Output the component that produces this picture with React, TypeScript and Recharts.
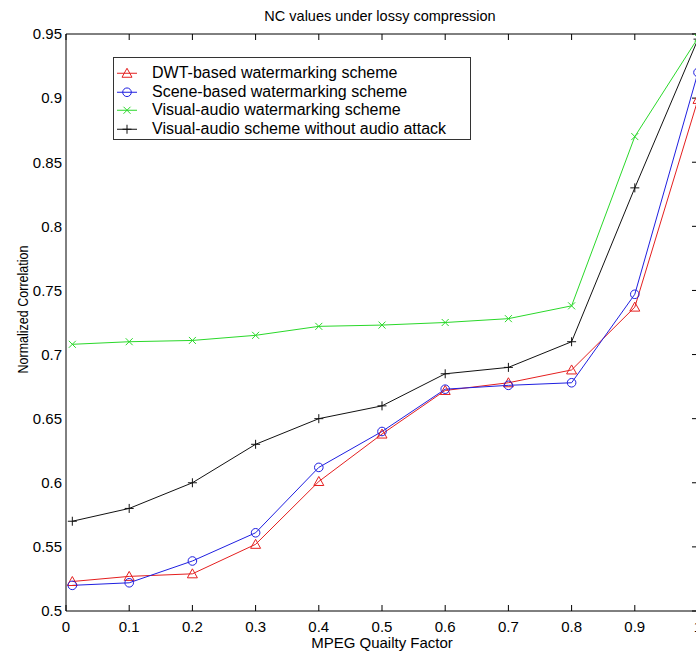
import React from "react";
import { LineChart, Line, XAxis, YAxis } from "recharts";

// MPEG quality factor (first sample sits just right of 0)
const qualityFactors = [0.01, 0.1, 0.2, 0.3, 0.4, 0.5, 0.6, 0.7, 0.8, 0.9, 1.0];
const dwtScheme = [0.523, 0.527, 0.529, 0.552, 0.601, 0.638, 0.672, 0.678, 0.688, 0.737, 0.899];
const sceneScheme = [0.52, 0.522, 0.539, 0.561, 0.612, 0.64, 0.673, 0.676, 0.678, 0.747, 0.92];
const visualAudioScheme = [0.708, 0.71, 0.711, 0.715, 0.722, 0.723, 0.725, 0.728, 0.738, 0.87, 0.947];
const noAudioAttack = [0.57, 0.58, 0.6, 0.63, 0.65, 0.66, 0.685, 0.69, 0.71, 0.83, 0.946];

const xTicks = [0, 0.1, 0.2, 0.3, 0.4, 0.5, 0.6, 0.7, 0.8, 0.9, 1];
const xTickLabels = ["0", "0.1", "0.2", "0.3", "0.4", "0.5", "0.6", "0.7", "0.8", "0.9", "1"];
const yTicks = [0.5, 0.55, 0.6, 0.65, 0.7, 0.75, 0.8, 0.85, 0.9, 0.95];
const yTickLabels = ["0.5", "0.55", "0.6", "0.65", "0.7", "0.75", "0.8", "0.85", "0.9", "0.95"];

const seriesNames = [
  "DWT-based watermarking scheme",
  "Scene-based watermarking scheme",
  "Visual-audio watermarking scheme",
  "Visual-audio scheme without audio attack",
];

const RED = "#e41f1f";
const BLUE = "#1f1fe0";
const GREEN = "#2ad82a";
const BLACK = "#111";

const data = qualityFactors.map((q, i) => ({
  q,
  dwt: dwtScheme[i],
  scene: sceneScheme[i],
  visual: visualAudioScheme[i],
  noAttack: noAudioAttack[i],
}));

type Marker = "triangle" | "circle" | "cross" | "plus";

function markerShape(kind: Marker, color: string, cx: number, cy: number, key?: any) {
  if (kind === "triangle") {
    return (
      <polygon key={key} points={`${cx},${cy - 5} ${cx - 5},${cy + 4} ${cx + 5},${cy + 4}`}
        fill="none" stroke={color} strokeWidth={1} />
    );
  }
  if (kind === "circle") {
    return <circle key={key} cx={cx} cy={cy} r={4.3} fill="none" stroke={color} strokeWidth={1} />;
  }
  if (kind === "cross") {
    return (
      <g key={key} stroke={color} strokeWidth={1}>
        <line x1={cx - 3.5} y1={cy - 3.5} x2={cx + 3.5} y2={cy + 3.5} />
        <line x1={cx - 3.5} y1={cy + 3.5} x2={cx + 3.5} y2={cy - 3.5} />
      </g>
    );
  }
  return (
    <g key={key} stroke={color} strokeWidth={1}>
      <line x1={cx - 4.5} y1={cy} x2={cx + 4.5} y2={cy} />
      <line x1={cx} y1={cy - 4.5} x2={cx} y2={cy + 4.5} />
    </g>
  );
}

const dotFor = (kind: Marker, color: string) => (props: any) =>
  markerShape(kind, color, props.cx, props.cy, props.key ?? `${kind}-${props.index}`);

const series: { key: string; color: string; marker: Marker }[] = [
  { key: "dwt", color: RED, marker: "triangle" },
  { key: "scene", color: BLUE, marker: "circle" },
  { key: "visual", color: GREEN, marker: "cross" },
  { key: "noAttack", color: BLACK, marker: "plus" },
];

const tickStyle = { fill: "#000", fontSize: 15 };

export default function App() {
  return (
    <div
      style={{
        position: "absolute",
        left: 0,
        top: 0,
        width: 696,
        height: 655,
        overflow: "hidden",
        background: "#fff",
        fontFamily: "Arial, 'Liberation Sans', sans-serif",
      }}
    >
      <div
        style={{
          position: "absolute",
          left: 0,
          top: 8,
          width: 760,
          textAlign: "center",
          fontSize: 14.5,
          lineHeight: "17px",
          color: "#000",
        }}
      >
        NC values under lossy compression
      </div>

      <LineChart width={728} height={655} data={data} margin={{ top: 33, right: 0, bottom: 0, left: 0 }}>
        <XAxis
          dataKey="q"
          type="number"
          domain={[0, 1]}
          allowDataOverflow
          ticks={xTicks}
          tickFormatter={(v: number) => xTickLabels[xTicks.indexOf(v)] ?? String(v)}
          tickSize={-6}
          tickMargin={16}
          height={44}
          stroke="#000"
          tick={tickStyle}
          label={{
            content: (p: any) => {
              const vb = p.viewBox;
              return (
                <text x={vb.x + vb.width / 2} y={642} textAnchor="middle" dominantBaseline="central"
                  fontSize={15} fill="#000">
                  MPEG Quailty Factor
                </text>
              );
            },
          }}
        />
        <XAxis
          xAxisId="top"
          dataKey="q"
          orientation="top"
          type="number"
          domain={[0, 1]}
          allowDataOverflow
          ticks={xTicks}
          tickFormatter={() => ""}
          tickSize={-6}
          height={1}
          stroke="#000"
        />
        <YAxis
          type="number"
          domain={[0.5, 0.95]}
          allowDataOverflow
          ticks={yTicks}
          tickFormatter={(v: number) => yTickLabels[yTicks.indexOf(v)] ?? String(v)}
          tickLine={false}
          tickSize={0}
          tickMargin={4}
          width={66}
          stroke="#000"
          tick={tickStyle}
          label={{
            content: (p: any) => {
              const vb = p.viewBox;
              const cy = vb.y + vb.height / 2 - 13;
              return (
                <text x={22} y={cy} transform={`rotate(-90 22 ${cy})`} textAnchor="middle"
                  dominantBaseline="central" fontSize={15} textLength={128}
                  lengthAdjust="spacingAndGlyphs" fill="#000">
                  Normalized Correlation
                </text>
              );
            },
          }}
        />
        <YAxis
          yAxisId="right"
          dataKey="dwt"
          orientation="right"
          type="number"
          domain={[0.5, 0.95]}
          allowDataOverflow
          ticks={yTicks}
          tickFormatter={() => ""}
          tickSize={-6}
          width={30}
          stroke="#000"
        />
        {series.map((s) => (
          <Line
            key={s.key}
            dataKey={s.key}
            type="linear"
            stroke={s.color}
            strokeWidth={1}
            dot={dotFor(s.marker, s.color)}
            activeDot={false}
            isAnimationActive={false}
          />
        ))}
      </LineChart>

      <div
        style={{
          position: "absolute",
          left: 113,
          top: 57,
          width: 358,
          height: 83,
          boxSizing: "border-box",
          border: "1px solid #333",
          background: "#fff",
        }}
      >
        {series.map((s, i) => (
          <div
            key={s.key}
            style={{
              position: "absolute",
              left: 0,
              top: 6 + i * 18.5,
              height: 18.5,
              width: "100%",
            }}
          >
            <svg width={36} height={18.5} style={{ position: "absolute", left: 2, top: 0 }}>
              <line x1={1} y1={9.25} x2={21} y2={9.25} stroke={s.color} strokeWidth={1} />
              {markerShape(s.marker, s.color, 11, 9.25)}
            </svg>
            <span
              style={{
                position: "absolute",
                left: 38,
                top: 0,
                fontSize: 16,
                lineHeight: "18.5px",
                whiteSpace: "nowrap",
                color: "#000",
              }}
            >
              {seriesNames[i]}
            </span>
          </div>
        ))}
      </div>
    </div>
  );
}
